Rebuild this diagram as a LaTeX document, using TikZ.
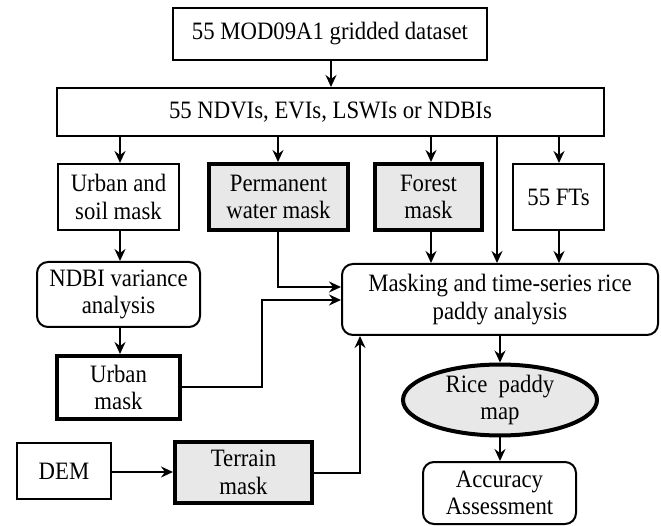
\documentclass[tikz,border=0pt]{standalone}
\usepackage{fontspec}
\setmainfont[FakeStretch=0.91]{Liberation Serif}
\usetikzlibrary{arrows.meta,shapes.geometric}
\definecolor{boxgray}{RGB}{232,232,232}
\tikzset{
  every node/.style={font=\fontsize{25}{27.5}\selectfont, align=center, inner sep=0pt},
  plainbox/.style={draw, line width=2pt, rectangle},
  thickbox/.style={draw, line width=4pt, rectangle},
  graybox/.style={draw, line width=4pt, rectangle, fill=boxgray},
  roundbox/.style={draw, line width=2pt, rectangle, rounded corners=11pt},
  arr/.style={line width=1.7pt, -{Stealth[length=12pt,width=11pt,inset=4pt]}},
  ln/.style={line width=1.7pt}
}
\begin{document}
\begin{tikzpicture}[x=1pt,y=-1pt]
\useasboundingbox (0,0) rectangle (661,526);
\node[plainbox, minimum width=314pt, minimum height=52pt] (top) at (330,34) {55 MOD09A1 gridded dataset};
\node[plainbox, minimum width=547pt, minimum height=48pt] (ndvi) at (330.5,112) {55 NDVIs, EVIs, LSWIs or NDBIs};
\node[plainbox, minimum width=121pt, minimum height=66pt] (us) at (118.5,197) {Urban and\\soil mask};
\node[graybox, minimum width=139pt, minimum height=66pt] (pw) at (278.5,197) {Permanent\\water mask};
\node[graybox, minimum width=107pt, minimum height=66pt] (fm) at (428.5,197) {Forest\\mask};
\node[plainbox, minimum width=91pt, minimum height=66pt] (ft) at (558.5,197) {55 FTs};
\node[roundbox, minimum width=163pt, minimum height=65pt] (ndbi) at (118.5,294.5) {NDBI variance\\analysis};
\node[thickbox, minimum width=123pt, minimum height=63pt] (um) at (118.5,387.5) {Urban\\mask};
\node[plainbox, minimum width=94pt, minimum height=56pt] (dem) at (64,471) {DEM};
\node[graybox, minimum width=137pt, minimum height=61pt] (tm) at (243.5,472.5) {Terrain\\mask};
\node[roundbox, minimum width=316pt, minimum height=71pt] (mk) at (500,299.5) {Masking and time-series rice\\paddy analysis};
\node[ellipse, draw, line width=4pt, fill=boxgray, minimum width=194pt, minimum height=66pt] (rice) at (500,400) {Rice~ paddy\\map};
\node[roundbox, minimum width=153pt, minimum height=62pt] (acc) at (499.5,493) {Accuracy\\Assessment};

\draw[arr] (top.south -| 331,0) -- (ndvi.north -| 331,0);
\draw[arr] (ndvi.south -| 120,0) -- (us.north -| 120,0);
\draw[arr] (ndvi.south -| 278,0) -- (pw.north -| 278,0);
\draw[arr] (ndvi.south -| 431,0) -- (fm.north -| 431,0);
\draw[arr] (ndvi.south -| 559,0) -- (ft.north -| 559,0);
\draw[arr] (ndvi.south -| 497,0) -- (mk.north -| 497,0);
\draw[arr] (us.south -| 120,0) -- (ndbi.north -| 120,0);
\draw[arr] (ndbi.south -| 120,0) -- (um.north -| 120,0);
\draw[arr] (fm.south -| 431,0) -- (mk.north -| 431,0);
\draw[arr] (ft.south -| 559,0) -- (mk.north -| 559,0);
\draw[arr] (pw.south -| 278,0) |- (mk.west |- 0,287);
\draw[arr] (um.east |- 0,387) -| (262,300) -- (mk.west |- 0,300);
\draw[arr] (dem.east |- 0,472) -- (tm.west |- 0,472);
\draw[arr] (tm.east |- 0,473) -| (mk.south -| 360,0);
\draw[arr] (mk.south -| 500,0) -- (rice.north);
\draw[arr] (rice.south) -- (acc.north -| 500,0);
\end{tikzpicture}
\end{document}
